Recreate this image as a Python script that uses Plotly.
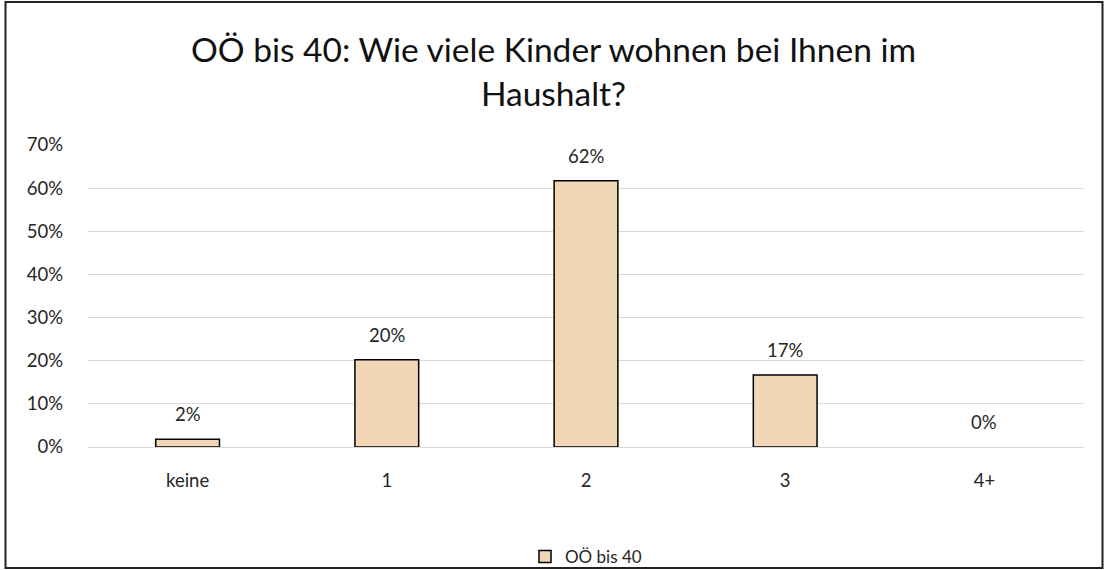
import plotly.graph_objects as go

categories = ["keine", "1", "2", "3", "4+"]
values = [0.018, 0.202, 0.617, 0.167, 0.0]
labels = ["2%", "20%", "62%", "17%", "0%"]
series_name = "OÖ bis 40"
title_text = "OÖ bis 40: Wie viele Kinder wohnen bei Ihnen im<br>Haushalt?"

W, H = 1107, 570
ml, mr, mt, mb = 88, 23, 145, 123
pw, ph = W - ml - mr, H - mt - mb

font = "Lato, Calibri, Open Sans, sans-serif"

fig = go.Figure()
fig.add_trace(go.Bar(
    x=categories, y=values, name=series_name,
    marker=dict(color="#F2D7B6",
                line=dict(color="#000000",
                          width=[1.5 if v > 0 else 0 for v in values])),
    width=0.32, showlegend=True,
))

for c, v, t in zip(categories, values, labels):
    fig.add_annotation(x=c, y=v, text=t, showarrow=False, yanchor="bottom",
                       yshift=12, font=dict(family=font, size=18.5, color="#262626"))

# outer chart frame
fig.add_shape(type="rect", xref="paper", yref="paper",
              x0=(5.5 - ml) / pw, x1=(1102.5 - ml) / pw,
              y0=(H - mb - 568) / ph, y1=(H - mb - 2) / ph,
              line=dict(color="#222222", width=2))

fig.update_layout(
    width=W, height=H,
    margin=dict(l=ml, r=mr, t=mt, b=mb, autoexpand=False),
    paper_bgcolor="white", plot_bgcolor="white",
    title=dict(text=title_text, x=0.5, xanchor="center", xref="container",
               y=1 - 62 / H, yanchor="middle",
               font=dict(family=font, size=33.5, color="#111111")),
    font=dict(family=font, size=18.5, color="#262626"),
    xaxis=dict(showline=False, ticks="", showgrid=False, ticklabelstandoff=20),
    yaxis=dict(range=[0, 0.7], dtick=0.1, tickformat=".0%", showgrid=True,
               gridcolor="#D9D9D9", gridwidth=1.2, zeroline=True,
               zerolinecolor="#D9D9D9", zerolinewidth=1.2, ticks="",
               ticklabelstandoff=24),
    legend=dict(orientation="h", x=0.5, xanchor="center",
                y=-110 / ph, yanchor="middle", font=dict(size=17),
                bgcolor="rgba(0,0,0,0)"),
    showlegend=True,
)

fig.write_html("out.html", config={"displayModeBar": False},
               post_script="document.body.style.margin='0';")
